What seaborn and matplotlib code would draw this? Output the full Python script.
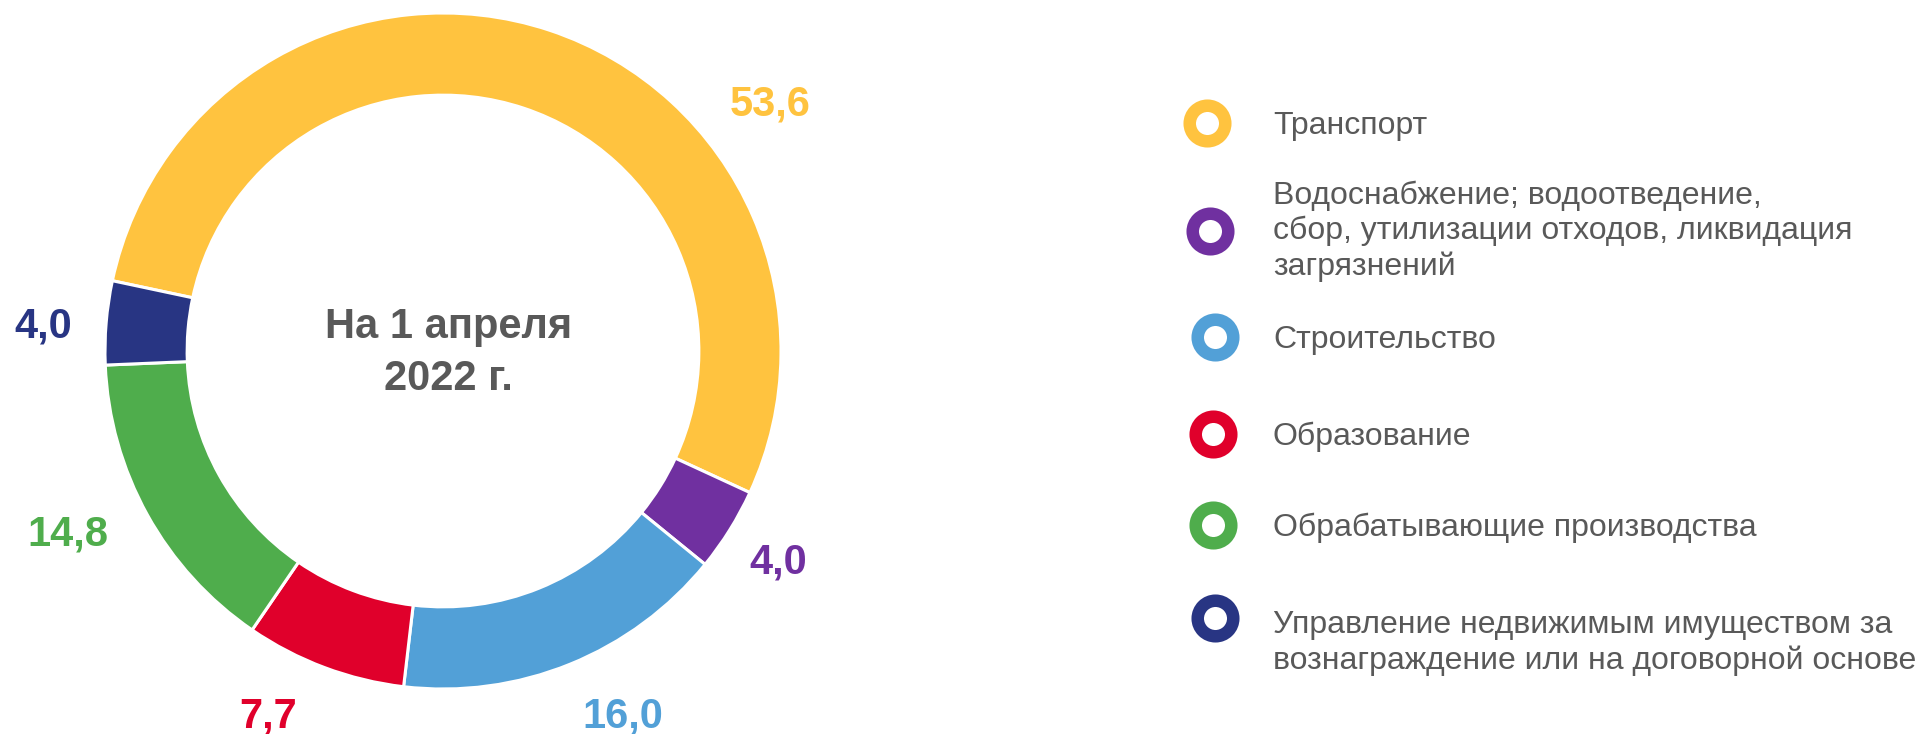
import matplotlib
matplotlib.use("Agg")
import matplotlib.pyplot as plt
import seaborn as sns

sns.set_theme(style="white")
plt.rcParams['font.family'] = ['Liberation Sans', 'DejaVu Sans']

# ---- data ----
categories = [
    "Транспорт",
    "Водоснабжение; водоотведение,\nсбор, утилизации отходов, ликвидация\nзагрязнений",
    "Строительство",
    "Образование",
    "Обрабатывающие производства",
    "Управление недвижимым имуществом за\nвознаграждение или на договорной основе",
]
values = [53.6, 4.0, 16.0, 7.7, 14.8, 4.0]
value_labels = ["53,6", "4,0", "16,0", "7,7", "14,8", "4,0"]
colors = ["#FFC33F", "#7030A0", "#52A0D7", "#E0002B", "#4FAD4C", "#283583"]
center_title = "На 1 апреля\n2022 г."

# ---- layout (pixels) ----
W, H, DPI = 1919, 734, 100
cx, cy, R = 443, 351, 338
ring_width = 0.243
label_pos = [(770, 115), (778, 573), (623, 728), (268, 728), (68, 545), (43, 337)]
legend_marker_x = [1207, 1210, 1215, 1213, 1213, 1215]
legend_marker_y = [123, 231, 337, 434, 525, 618]
legend_text_x = 1273
legend_text_y = [126, 231, 340, 437, 528, 643]
text_gray = "#595959"

fig = plt.figure(figsize=(W / DPI, H / DPI), dpi=DPI)
fig.patch.set_facecolor("white")

ax = fig.add_axes([(cx - R) / W, (H - cy - R) / H, 2 * R / W, 2 * R / H])
wedges, _ = ax.pie(values, colors=colors, startangle=168, counterclock=False,
                   wedgeprops=dict(width=ring_width, edgecolor="white", linewidth=2.2))
for w in wedges:
    w.set_clip_on(False)
ax.set_xlim(-1, 1)
ax.set_ylim(-1, 1)
ax.set_aspect("auto")
ax.axis("off")

ax.text(0.016, -0.006, center_title, ha="center", va="center", fontsize=30,
        fontweight="bold", color=text_gray, linespacing=1.4)

# overlay axes in pixel coordinates for labels and legend
ov = fig.add_axes([0, 0, 1, 1], facecolor="none")
ov.set_xlim(0, W)
ov.set_ylim(H, 0)
ov.axis("off")

for (x, y), lab, c in zip(label_pos, value_labels, colors):
    ov.text(x, y, lab, ha="center", va="baseline", fontsize=30, fontweight="bold",
            color=c, clip_on=False)

for cat, c, mx, my, ty in zip(categories, colors, legend_marker_x, legend_marker_y, legend_text_y):
    ov.plot([mx], [my], marker="o", markersize=25.6, markeredgewidth=9,
            markerfacecolor="white", markeredgecolor=c, linestyle="none", clip_on=False)
    ov.text(legend_text_x, ty, cat, ha="left", va="center", fontsize=23,
            color=text_gray, linespacing=1.22)

fig.savefig("out.png", dpi=DPI, facecolor="white")
